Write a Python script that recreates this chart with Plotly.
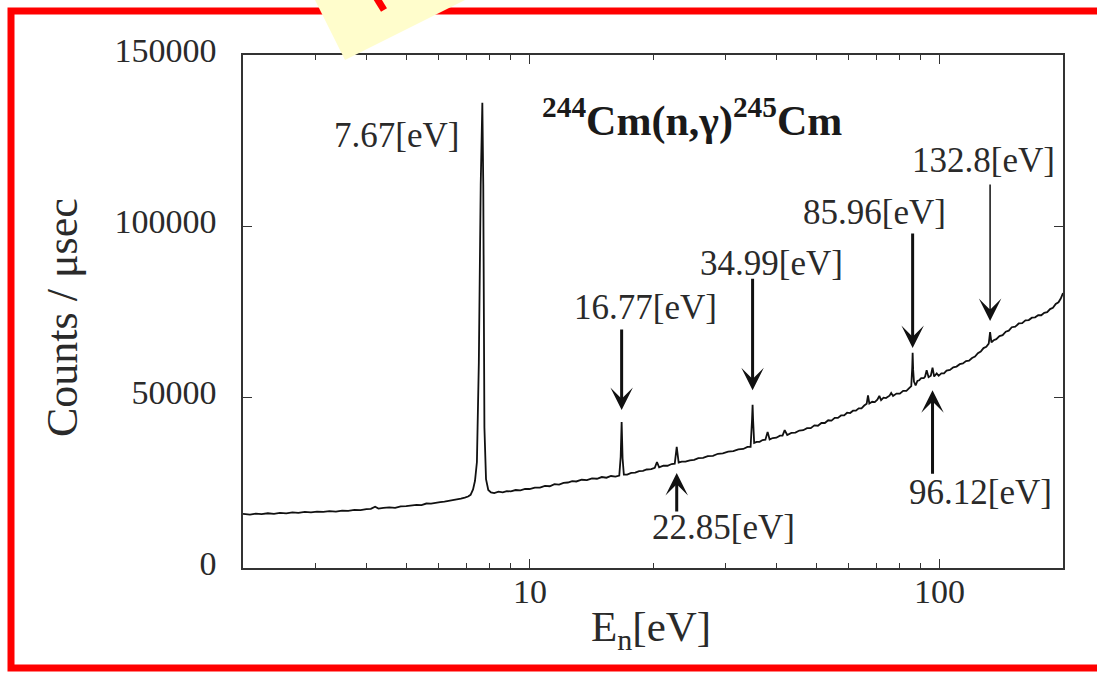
import math
import plotly.graph_objects as go

# Neutron-capture yield spectrum of Cm-244 (counts per microsecond vs neutron energy)
energy_ev = [
    2.00, 2.08, 2.15, 2.22, 2.30, 2.38, 2.46, 2.55, 2.64, 2.73, 2.83, 2.93, 3.03, 3.14,
    3.25, 3.37, 3.49, 3.61, 3.74, 3.87, 4.00, 4.10, 4.20, 4.28, 4.40, 4.55, 4.70, 4.85,
    5.00, 5.15, 5.30, 5.45, 5.60, 5.75, 5.90, 6.05, 6.20, 6.35, 6.50, 6.65, 6.80, 6.95,
    7.08, 7.18, 7.28, 7.36, 7.44, 7.52, 7.60, 7.67, 7.71, 7.76, 7.83, 7.93, 8.05, 8.20,
    8.40, 8.60, 8.80, 9.00, 9.25, 9.50, 9.75, 10.0, 10.3, 10.6, 10.9, 11.2, 11.5, 11.8,
    12.1, 12.4, 12.7, 13.0, 13.4, 13.8, 14.2, 14.6, 15.0, 15.4, 15.8, 16.2, 16.55, 16.68,
    16.77, 16.86, 16.98, 17.3, 17.7, 18.1, 18.5, 18.9, 19.3, 19.8, 20.2, 20.45, 20.7, 21.2,
    21.7, 22.2, 22.6, 22.85, 23.1, 23.5, 24.0, 24.6, 25.2, 25.8, 26.5, 27.2, 28.0, 28.8,
    29.6, 30.5, 31.4, 32.3, 33.2, 34.0, 34.6, 34.88, 34.99, 35.10, 35.3, 35.8, 36.4, 37.0,
    37.6, 38.07, 38.5, 39.2, 40.0, 40.8, 41.4, 41.9, 42.5, 43.5, 44.5, 45.5, 46.5, 47.5,
    48.5, 49.5, 50.5, 51.5, 52.5, 53.5, 54.5, 55.5, 56.5, 57.5, 58.5, 59.5, 60.5, 61.5,
    62.5, 63.5, 64.5, 65.5, 66.4, 66.9, 67.4, 68.5, 69.5, 70.5, 71.3, 72.0, 73.0, 74.0,
    75.5, 76.2, 77.0, 78.5, 80.0, 81.5, 83.0, 84.3, 85.3, 85.75, 85.96, 86.2, 86.6, 87.4,
    88.3, 89.2, 90.2, 91.5, 92.2, 93.0, 94.0, 95.2, 96.12, 97.0, 98.4, 99.5, 101.0, 102.5,
    104.0, 106.0, 108.0, 110.0, 112.0, 114.0, 116.0, 118.0, 120.0, 122.0, 124.0, 126.0, 128.0, 130.0,
    131.8, 132.8, 133.8, 135.5, 137.5, 140.0, 142.5, 145.0, 147.5, 150.0, 153.0, 156.0, 159.0, 162.0,
    165.0, 168.0, 171.0, 174.0, 177.0, 180.0, 183.0, 186.0, 189.0, 192.0, 195.0, 197.5, 200.0,
]
counts_per_usec = [
    15800, 15600, 15900, 15750, 16000, 15850, 16100, 15950, 16250, 16100, 16400, 16250, 16500, 16400,
    16650, 16500, 16800, 16700, 17000, 16900, 17200, 17300, 17900, 17350, 17550, 17750, 17600, 18000,
    18100, 18300, 18450, 18400, 18850, 18800, 19100, 19250, 19400, 19600, 19800, 20000, 20300, 20600,
    20900, 21400, 23000, 25500, 31000, 60000, 112000, 136000, 112000, 41000, 26000, 22800, 22100, 21900,
    22300, 22100, 22500, 22400, 22800, 22700, 23100, 23100, 23500, 23500, 24000, 23900, 24500, 24400,
    24900, 25000, 25400, 25300, 25800, 25700, 26200, 26100, 26600, 26400, 26900, 26700, 27000, 32500,
    42700, 32000, 27300, 27300, 27800, 27900, 28300, 28400, 28800, 28900, 29300, 31000, 29400, 29900,
    29900, 30400, 30500, 35400, 30800, 31100, 31100, 31500, 31600, 32100, 32200, 32700, 32800, 33400,
    33500, 34000, 34200, 34700, 34800, 35400, 35400, 43300, 47700, 43000, 36600, 36900, 36900, 37400,
    37500, 39800, 37600, 38000, 38100, 38700, 38700, 40300, 38900, 39500, 39600, 40200, 40300, 40900,
    40900, 41700, 41600, 42400, 42400, 43200, 43100, 43900, 43900, 44600, 44600, 45400, 45300, 46000,
    46000, 46700, 46700, 47500, 48000, 50500, 48100, 48600, 48500, 49200, 50300, 49100, 49800, 49700,
    50400, 51200, 50300, 51000, 51000, 51800, 51800, 52600, 53200, 58500, 62900, 58000, 54500, 53400,
    54700, 54900, 55500, 55500, 56000, 57800, 55800, 56200, 58600, 56000, 56900, 56200, 56900, 56900,
    57700, 57900, 58700, 58900, 59600, 59800, 60500, 60600, 61400, 61800, 62800, 63300, 64300, 64700,
    65600, 69000, 66000, 66600, 66900, 67800, 68100, 69100, 69400, 70400, 70600, 71500, 71600, 72400,
    72500, 73200, 73300, 73900, 73900, 74600, 74800, 75700, 76100, 77200, 77700, 78800, 80400,
]

# Resonance energies that are labelled on the spectrum
peak_ev = [7.67, 16.77, 22.85, 34.99, 85.96, 96.12, 132.8]

y_tick_vals = [0, 50000, 100000, 150000]
y_tick_text = ["0", "50000", "100000", "150000"]
x_tick_vals = [10, 100]
x_tick_text = ["10", "100"]
x_minor_vals = [3, 4, 5, 6, 7, 8, 9, 20, 30, 40, 50, 60, 70, 80, 90]

# Plot-area geometry in page pixels
L, T, W, H = 243, 55, 820, 513
FIG_W, FIG_H = 1097, 673


def paper_x(p):
    return (p - L) / W


def paper_y(p):
    return (T + H - p) / H


SERIF = "Liberation Serif, Times New Roman, serif"
INK = "#2a2a2a"

# Label placement: text centre (page px), arrow tip (counts), tail offset (px), arrow width
label_layout = {
    7.67: dict(text_xy=(396, 135), arrow=None),
    16.77: dict(text_xy=(645, 307), arrow=(46200, -82, 3.0)),
    22.85: dict(text_xy=(723, 527), arrow=(27800, 40, 3.0)),
    34.99: dict(text_xy=(771, 263), arrow=(52000, -113, 3.0)),
    85.96: dict(text_xy=(874, 212), arrow=(64300, -116, 3.0)),
    96.12: dict(text_xy=(980, 492), arrow=(52000, 85, 3.0)),
    132.8: dict(text_xy=(983, 160), arrow=(72200, -138, 1.5)),
}

fig = go.Figure()
fig.add_trace(go.Scatter(
    x=energy_ev, y=counts_per_usec, mode="lines",
    line=dict(color="#111111", width=1.8), showlegend=False, hoverinfo="skip",
))

annotations = []
for e in peak_ev:
    cfg = label_layout[e]
    tx, ty = cfg["text_xy"]
    annotations.append(dict(
        xref="paper", yref="paper", x=paper_x(tx), y=paper_y(ty),
        text=f"{e:g}[eV]", showarrow=False, xanchor="center", yanchor="middle",
        font=dict(family=SERIF, size=35, color=INK),
    ))
    if cfg["arrow"] is not None:
        tip, tail, aw = cfg["arrow"]
        annotations.append(dict(
            xref="x", yref="y", x=math.log10(e), y=tip, text="",
            showarrow=True, ax=0, ay=tail, arrowhead=3,
            arrowsize=1.25 * 3.0 / aw, arrowwidth=aw, arrowcolor="#111111",
        ))

# x tick labels, placed just under the axis
for v, t in zip(x_tick_vals, x_tick_text):
    annotations.append(dict(
        xref="x", yref="paper", x=math.log10(v), y=paper_y(591), text=t,
        showarrow=False, xanchor="center", yanchor="middle",
        font=dict(family=SERIF, size=34, color=INK),
    ))

# Reaction title
annotations.append(dict(
    xref="paper", yref="paper", x=paper_x(692), y=paper_y(118),
    text="<b><sup>244</sup>Cm(n,γ)<sup>245</sup>Cm</b>", showarrow=False,
    xanchor="center", yanchor="middle",
    font=dict(family=SERIF, size=42, color="#1a1a1a"),
))
# Axis titles
annotations.append(dict(
    xref="paper", yref="paper", x=paper_x(651), y=paper_y(630),
    text="E<sub>n</sub>[eV]", showarrow=False, xanchor="center", yanchor="middle",
    font=dict(family=SERIF, size=43, color=INK),
))
annotations.append(dict(
    xref="paper", yref="paper", x=paper_x(62), y=paper_y(318),
    text="Counts / μsec", showarrow=False, xanchor="center", yanchor="middle",
    textangle=-90, font=dict(family=SERIF, size=44, color=INK),
))

shapes = [
    # red frame around the figure
    dict(type="rect", xref="paper", yref="paper",
         x0=paper_x(11), x1=paper_x(1130), y0=paper_y(11), y1=paper_y(668),
         line=dict(color="#ff0000", width=7), fillcolor="rgba(0,0,0,0)", layer="above"),
    # pale yellow sticky note poking in at the top
    dict(type="path", xref="paper", yref="paper", layer="above",
         path=(f"M {paper_x(345)},{paper_y(60)} L {paper_x(300)},{paper_y(-30)} "
               f"L {paper_x(525)},{paper_y(-30)} Z"),
         fillcolor="#fffdcc", line=dict(width=0)),
    # red pen stroke written on the note
    dict(type="line", xref="paper", yref="paper", layer="above",
         x0=paper_x(376), y0=paper_y(-3), x1=paper_x(384), y1=paper_y(10),
         line=dict(color="#ff0000", width=7)),
]

axis_common = dict(showline=True, linecolor="#333333", linewidth=1.6, mirror="ticks",
                   ticks="inside", tickcolor="#333333", tickwidth=1.4, showgrid=False,
                   zeroline=False, tickfont=dict(family=SERIF, size=34, color=INK))

fig.update_layout(
    width=FIG_W, height=FIG_H,
    margin=dict(l=L, r=FIG_W - L - W, t=T, b=FIG_H - T - H, autoexpand=False),
    paper_bgcolor="white", plot_bgcolor="white",
    xaxis=dict(type="log", range=[math.log10(2), math.log10(200)],
               tickvals=x_tick_vals, ticktext=["", ""], ticklen=9,
               minor=dict(ticks="inside", tickvals=x_minor_vals, ticklen=5,
                          tickcolor="#333333", tickwidth=1.2, showgrid=False),
               **axis_common),
    yaxis=dict(range=[0, 150000], tickvals=y_tick_vals, ticktext=y_tick_text,
               ticklen=9, ticklabelstandoff=18, ticklabelshift=-5, **axis_common),
    annotations=annotations, shapes=shapes, showlegend=False,
)

fig.write_html("out.html")
